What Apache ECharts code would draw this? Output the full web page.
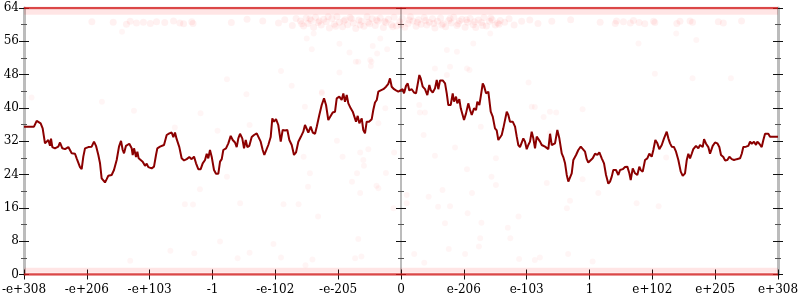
<!DOCTYPE html>
<html><head><meta charset="utf-8">
<script src="https://cdn.jsdelivr.net/npm/echarts@6/dist/echarts.min.js"></script>
<style>html,body{margin:0;padding:0;background:#fff}#c{width:800px;height:300px}</style>
</head><body><div id="c"></div>
<script>
const xLabels = ['-e+308','-e+206','-e+103','-1','-e-102','-e-205','0','e-206','e-103','1','e+102','e+205','e+308'];
const yMin = 0, yMax = 64, yStep = 8;

const lineU = [0,0.159,0.202,0.233,0.265,0.297,0.318,0.334,0.361,0.387,0.414,0.430,0.451,0.493,0.546,0.573,0.610,0.653,0.706,0.732,0.759,0.812,0.838,0.891,0.918,0.944,0.971,1.024,1.077,1.114,1.146,1.183,1.210,1.236,1.263,1.289,1.316,1.342,1.395,1.432,1.475,1.512,1.544,1.571,1.592,1.623,1.676,1.714,1.730,1.751,1.783,1.804,1.825,1.857,1.889,1.926,1.953,1.979,2.032,2.069,2.101,2.122,2.165,2.228,2.271,2.313,2.350,2.377,2.403,2.430,2.472,2.509,2.547,2.589,2.631,2.668,2.706,2.738,2.774,2.812,2.844,2.881,2.908,2.933,
2.960,2.987,3.024,3.056,3.093,3.120,3.147,3.172,3.215,3.252,3.290,3.322,3.358,3.385,3.411,3.438,3.474,3.502,3.529,3.554,3.586,3.624,3.661,3.704,3.729,3.767,3.799,3.825,3.852,3.888,3.926,3.952,3.979,4.011,4.047,4.086,4.117,4.154,4.191,4.223,4.261,4.297,4.329,4.366,4.404,4.445,4.472,4.499,4.525,4.563,4.595,4.632,4.659,4.700,4.738,4.775,4.807,4.843,4.870,4.913,4.950,4.977,5.018,5.056,5.082,5.109,5.136,5.162,5.200,5.232,5.252,5.284,5.311,5.337,5.375,5.400,5.427,5.454,5.491,5.534,5.559,5.586,5.614,5.639,5.677,5.719,5.762,5.798,5.825,5.852,5.889,5.921,5.957,5.984,
6.027,6.048,6.080,6.107,6.132,6.171,6.207,6.239,6.260,6.292,6.314,6.346,6.382,6.419,6.451,6.473,6.505,6.541,6.569,6.594,6.621,6.664,6.701,6.728,6.753,6.791,6.823,6.844,6.876,6.896,6.928,6.951,6.982,7.003,7.035,7.071,7.099,7.126,7.162,7.194,7.215,7.247,7.269,7.301,7.321,7.353,7.390,7.428,7.460,7.496,7.523,7.549,7.576,7.603,7.628,7.656,7.683,7.708,7.735,7.778,7.815,7.842,7.867,7.894,7.921,7.947,7.974,8.001,8.026,8.053,8.080,8.106,8.133,8.160,8.185,8.213,8.240,8.265,8.292,8.319,8.345,8.372,8.399,8.424,8.451,8.488,8.520,8.558,8.583,8.611,8.638,8.663,8.690,8.717,8.743,8.786,8.822,8.861,8.892,8.929,8.956,8.981,
9.008,9.051,9.088,9.125,9.157,9.195,9.231,9.263,9.300,9.327,9.354,9.379,9.422,9.459,9.486,9.529,9.565,9.602,9.634,9.656,9.688,9.725,9.761,9.793,9.815,9.847,9.884,9.920,9.952,9.990,10.016,10.048,10.080,10.111,10.150,10.186,10.229,10.255,10.282,10.309,10.345,10.377,10.414,10.452,10.484,10.520,10.548,10.573,10.600,10.627,10.652,10.695,10.732,10.759,10.802,10.823,10.855,10.891,10.918,10.961,10.998,11.034,11.066,11.093,11.130,11.157,11.194,11.226,11.264,11.300,11.343,11.396,11.423,11.448,11.491,11.528,11.555,11.582,11.618,11.650,11.671,11.703,11.741,11.767,11.794,11.820,11.846,11.873,11.980,12];

const lineV = [35.5,35.5,36.9,36.5,36.3,35.1,35.1,31.5,31.1,32.3,30.9,32.6,30.6,30.3,30.7,31.7,30.3,30.1,30.6,30.6,29.1,29.0,27.9,25.8,25.3,28.3,30.3,30.6,30.7,31.9,30.9,28.7,26.7,23.1,23.4,22.1,22.9,23.7,23.9,25.1,27.5,30.7,32.1,29.9,29.1,30.9,31.4,30.3,28.7,30.3,28.2,29.5,27.9,27.5,27.1,26.1,26.6,25.8,25.5,25.9,28.7,30.3,30.7,31.1,33.5,33.9,34.1,33.0,34.1,32.5,30.6,27.9,27.4,27.7,28.2,27.7,28.3,26.7,25.3,25.3,26.7,27.5,29.0,27.9,
29.9,28.3,25.1,24.2,24.2,27.1,27.7,29.9,30.3,31.5,33.3,32.3,31.7,30.6,32.7,33.8,32.7,30.3,32.3,30.6,30.9,33.0,33.5,33.9,34.3,31.9,29.9,28.7,29.1,31.1,33.0,37.5,36.7,37.3,35.9,31.9,34.7,34.6,34.7,32.3,31.1,28.7,29.3,31.9,33.0,34.3,35.9,35.5,34.1,35.5,34.1,33.8,35.5,38.3,40.7,42.3,40.7,37.1,37.0,38.9,39.1,42.3,42.7,41.9,43.5,41.5,43.1,41.1,39.9,39.1,39.5,36.7,38.1,36.3,37.5,34.7,33.9,36.7,36.7,37.3,39.5,41.3,41.9,43.9,44.2,44.5,45.1,45.8,47.1,45.1,44.5,44.2,43.9,44.3,
44.5,43.5,45.3,45.9,44.2,44.5,43.7,43.5,43.1,47.9,47.1,45.1,44.5,43.1,45.5,44.3,43.7,44.7,46.7,44.5,46.6,46.6,45.9,43.5,40.7,40.7,43.5,41.5,42.7,41.1,42.1,39.9,39.5,37.1,38.7,41.1,39.5,38.3,39.9,39.5,41.5,40.7,42.7,45.9,45.3,43.5,43.9,39.1,37.9,35.1,34.6,32.3,32.3,33.5,35.1,35.5,39.1,38.3,36.7,36.7,35.5,33.1,31.1,30.6,30.6,32.7,31.9,30.1,31.1,31.9,34.3,32.7,30.3,33.1,33.1,31.9,31.1,31.5,30.7,30.9,30.1,33.8,31.1,30.9,31.5,34.7,32.7,29.1,28.2,26.7,23.9,22.3,22.3,24.3,27.5,28.7,29.9,30.7,30.9,29.5,27.7,26.9,
26.9,27.9,29.0,28.7,29.3,27.9,26.7,23.9,21.8,22.3,23.5,25.1,25.1,23.9,25.1,25.3,25.8,25.9,24.3,22.7,25.5,24.3,23.9,25.9,25.1,24.7,27.5,27.9,29.0,28.3,29.9,32.3,31.5,30.1,31.1,32.7,34.3,32.7,31.5,30.7,30.6,29.5,27.5,24.7,23.7,24.3,27.5,29.0,27.9,29.0,30.1,30.9,30.3,31.1,30.6,32.5,31.4,30.6,29.0,30.9,31.7,31.5,30.6,28.7,28.2,27.4,27.5,28.3,27.7,27.5,27.7,27.9,29.0,30.6,30.7,30.9,31.9,31.4,31.9,31.1,31.9,31.4,30.6,32.3,33.8,34.1,33.8,33.1,33.1,33.1];

// faint sample dots (u, bits)
const clusterPts = [[4.40,60.9],[4.45,59.7],[4.49,61.6],[4.52,60.3],[4.57,61.0],[4.61,59.4],[4.64,61.8],[4.68,60.5],[4.73,59.9],[4.77,61.3],[4.81,60.7],[4.86,59.2],[4.90,61.5],[4.94,60.1],[4.98,61.9],[5.02,60.6],[5.07,59.5],[5.11,61.2],[5.15,60.0],[5.19,61.7],[5.24,60.4],[5.28,59.1],[5.33,61.1],[5.37,60.8],[5.41,59.6],[5.46,61.9],[5.50,60.2],[5.54,61.4],[5.59,59.8],[5.63,60.9],[5.67,61.6],[5.72,59.3],[5.76,60.5],[5.80,61.3],[5.85,60.0],[5.89,61.8],[5.93,59.7],[5.98,60.7],[6.02,61.5],[6.06,59.4],[6.11,60.3],[6.15,61.9],[6.19,60.9],[6.24,59.6],[6.28,61.2],[6.32,60.1],[6.37,61.7],[6.41,59.9],[6.45,60.6],[6.50,61.4],[6.54,59.2],[6.58,60.8],[6.63,61.6],[6.67,60.2],[6.71,59.5],[6.76,61.0],[6.80,60.4],[6.84,61.8],[6.89,59.8],[6.93,60.9],[6.97,61.3],[7.02,59.4],[7.06,60.6],[7.10,61.5],[7.15,60.0],[7.19,59.3],[7.23,61.1],[7.28,60.5],[7.32,61.7],[7.36,59.7],[7.41,60.8],[7.45,61.2],[7.50,59.9],[7.54,60.4],[7.58,61.0],
[4.42,60.2],[4.55,61.4],[4.70,60.9],[4.84,61.9],[4.96,59.6],[5.09,60.9],[5.21,61.4],[5.35,59.9],[5.48,60.6],[5.61,61.2],[5.74,60.8],[5.87,59.5],[6.00,60.0],[6.13,61.1],[6.26,60.6],[6.39,61.0],[6.52,60.3],[6.65,59.9],[6.78,61.5],[6.91,60.2],[7.04,61.2],[7.17,60.7],[7.30,59.8],[7.43,61.6],[7.56,60.1],
[4.05,60.4],[4.15,61.2],[4.27,59.8],[4.33,61.5],[7.65,60.6],[7.72,61.4],[7.80,59.9],[7.92,60.8],[8.05,61.1],[8.18,60.3],[3.80,60.9],[3.55,61.3],[3.30,60.5],[8.40,60.8],[8.70,61.2],
[9.17,60.6],[9.41,60.3],[9.43,60.9],[9.54,60.7],[9.65,60.4],[9.70,61.0],[9.79,60.5],[9.88,60.2],[10.02,60.8],[10.04,60.5],[10.39,60.3],[10.44,60.8],[10.60,60.9],[10.64,60.6],[11.05,60.7],[11.13,60.4],[11.42,60.9],
[1.08,60.7],[1.42,60.6],[1.63,60.1],[1.69,60.8],[1.79,60.4],[1.90,60.6],[2.01,60.3],[2.11,60.7],[2.24,60.5],[2.38,60.9],[2.48,60.4],[2.54,60.2],[2.67,60.7],[2.69,60.3]];

const sparsePts = [[0.12,42.5],[1.24,41.5],[1.75,39.3],[2.81,38.7],[2.40,35.3],[2.80,20.5],[2.56,16.9],[2.69,16.8],[3.44,17.1],[3.12,7.9],[2.33,5.7],[2.71,5.1],[1.69,3.3],[3.59,5.2],[3.40,3.9],[4.13,16.9],[4.37,16.9],[4.68,13.9],[3.97,7.3],[4.09,4.1],[4.59,3.6],[4.48,2.2],[5.32,8.5],[5.27,3.9],[5.37,4.3],[5.88,15.9],[6.09,17.1],[6.59,16.3],[6.78,16.4],[7.06,14.7],[6.70,12.3],[7.28,12.4],[7.87,13.9],[6.21,4.9],[6.37,2.8],[6.76,6.1],[7.02,4.9],[7.24,6.7],[7.26,8.7],[7.70,11.2],[7.74,8.7],[7.88,3.7],[8.69,17.7],[8.64,15.9],[9.75,17.1],[10.10,16.4],[8.66,4.9],[8.13,3.5],[8.21,4.1],[9.05,3.1],[3.23,46.9],[4.09,48.9],[4.26,45.3],[3.54,43.3],[4.47,40.3],[4.74,43.8],[5.02,48.5],[3.08,34.5],[3.59,35.9],[4.98,32.1],[4.45,28.3],[4.55,24.3],[3.23,23.5],[4.52,21.1],[5.07,28.3],[5.35,29.3],[5.48,30.1],[5.40,27.5],[5.41,26.1],[5.30,24.3],[5.22,22.3],[5.35,19.6],[5.61,21.3],[5.64,20.7],[5.75,39.9],[5.64,36.3],[5.76,24.4],[5.89,29.3],[5.28,51.1],[5.53,51.1],[6.54,49.5],[6.78,49.9],[6.73,47.9],[7.09,49.1],[8.03,46.1],[6.29,40.7],[6.30,38.9],[6.38,38.9],[6.36,33.5],[7.27,35.5],[8.08,40.3],[8.13,40.2],[8.27,37.8],[8.37,39.1],[8.47,38.9],[8.89,39.7],[8.37,33.9],[6.86,30.5],[6.54,28.5],[7.51,27.9],[7.05,25.3],[7.44,23.5],[7.51,21.5],[6.66,20.3],[7.13,19.6],[6.44,18.7],[8.32,22.0],[8.89,22.9],[6.09,19.1],[10.04,48.2],[10.64,47.1],[11.25,47.1],[10.22,28.1],[9.14,19.6],[9.78,55.5],[10.70,56.3],[10.38,57.9],[1.56,58.3],[4.50,56.7],[4.61,57.9],[4.58,54.1],[5.02,55.4],[5.18,53.3],[5.32,51.1],[5.51,51.5],[5.55,54.9],[5.62,53.1],[5.78,54.1],[5.52,50.1],[7.05,49.5],[6.73,53.9],[6.89,53.5],[7.15,55.5],[7.42,57.9],[5.67,56.7],[4.74,43.5]];

// dense sample bands at the extremes
const bandU = [0, 12];
const bandLow = [0, 0];
const bandLowHalo = [1, 1];
const bandHigh = [64, 64];
const bandHighHalo = [63, 63];

const FONT = 'DejaVu Serif';
const zip = (a, b) => a.map((x, i) => [x, b[i]]);

function yAx(opts) {
  return Object.assign({
    type: 'value', min: yMin, max: yMax, interval: yStep, position: 'left',
    splitLine: { show: false },
    axisLine: { show: false },
    axisTick: { show: true, length: 5, lineStyle: { color: '#111', width: 1 } },
    minorTick: { show: true, splitNumber: 2, length: 3, lineStyle: { color: '#555', width: 1 } },
    axisLabel: { show: false }
  }, opts);
}
function xAx(opts) {
  return Object.assign({
    type: 'value', min: 0, max: 12, interval: 1, position: 'bottom',
    splitLine: { show: false },
    axisLine: { show: false, onZero: false },
    axisTick: { show: true, length: 5, lineStyle: { color: '#111', width: 1 } },
    axisLabel: { show: false }
  }, opts);
}
const gray = '#bcbcbc';

const chart = echarts.init(document.getElementById('c'), null, { renderer: 'canvas' });
chart.setOption({
  animation: false,
  backgroundColor: '#fff',
  grid: { left: 24, right: 22, top: 8, bottom: 25.5, containLabel: false, outerBoundsMode: 'none' },
  xAxis: [
    xAx({ axisLabel: { show: true, margin: 9, fontFamily: FONT, fontSize: 12, color: '#000',
      formatter: v => xLabels[Math.round(v)] } }),
    xAx({ axisTick: { show: true, inside: true, length: 5, lineStyle: { color: '#111', width: 1 } } })
  ],
  yAxis: [
    yAx({ axisLine: { show: true, lineStyle: { color: gray, width: 3 } },
      axisLabel: { show: true, margin: 5, fontFamily: FONT, fontSize: 12, color: '#000' } }),
    yAx({ axisTick: { show: true, inside: true, length: 5, lineStyle: { color: '#111', width: 1 } } }),
    yAx({ offset: -377, axisLine: { show: true, onZero: false, lineStyle: { color: gray, width: 2 } } }),
    yAx({ offset: -377, axisTick: { show: true, inside: true, length: 5, lineStyle: { color: '#111', width: 1 } } }),
    yAx({ position: 'right', axisLine: { show: true, lineStyle: { color: gray, width: 3 } } }),
    yAx({ position: 'right', axisTick: { show: true, inside: true, length: 5, lineStyle: { color: '#111', width: 1 } } })
  ],
  series: [
    { type: 'line', data: zip(bandU, bandLowHalo), symbol: 'none', silent: true,
      lineStyle: { color: 'rgba(255,0,0,0.10)', width: 5 } },
    { type: 'line', data: zip(bandU, bandHighHalo), symbol: 'none', silent: true,
      lineStyle: { color: 'rgba(255,0,0,0.10)', width: 5 } },
    { type: 'line', data: zip(bandU, bandLow), symbol: 'none', silent: true,
      lineStyle: { color: 'rgba(210,25,25,0.8)', width: 2.5 } },
    { type: 'line', data: zip(bandU, bandHigh), symbol: 'none', silent: true,
      lineStyle: { color: 'rgba(210,25,25,0.8)', width: 2.5 } },
    { type: 'scatter', data: clusterPts, symbolSize: 7, silent: true,
      itemStyle: { color: 'rgba(255,0,0,0.07)' } },
    { type: 'scatter', data: sparsePts, symbolSize: 6, silent: true,
      itemStyle: { color: 'rgba(255,0,0,0.05)' } },
    { type: 'line', data: zip(lineU, lineV), symbol: 'none', silent: true,
      lineStyle: { color: '#8b0000', width: 2 } }
  ]
});
</script></body></html>
